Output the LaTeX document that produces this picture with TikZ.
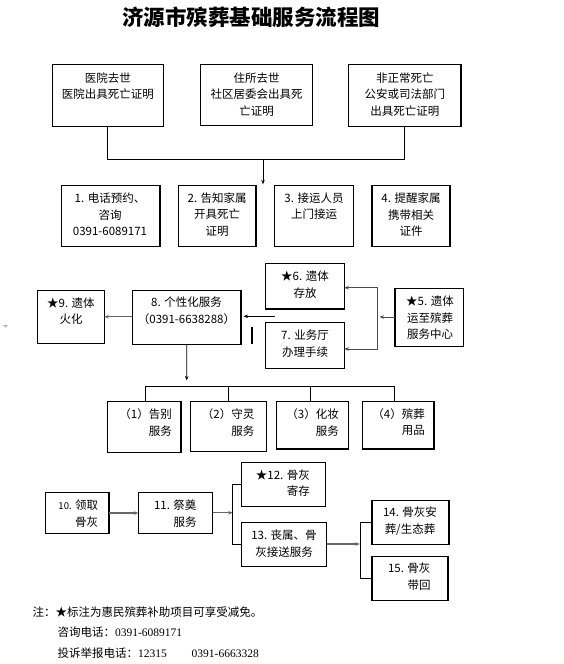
\documentclass[tikz,border=0pt]{standalone}
\usepackage{fontspec}
\setmainfont{Noto Sans CJK SC}
\newfontfamily\numfont{Liberation Serif}
\usetikzlibrary{arrows.meta,fit}
\newcommand\mkbox[5]{\path (#2,#3) coordinate (#1-nw) (#4,#5) coordinate (#1-se); \node[box, fit=(#1-nw)(#1-se)] (#1) {};}
\begin{document}
\begin{tikzpicture}[x=1pt,y=-1pt,
  box/.style={draw, line width=1.1pt, inner sep=0pt, outer sep=0pt},
  txt/.style={font=\fontsize{11.5}{16.5}\selectfont, align=center, inner sep=0pt},
  rtxt/.style={font=\fontsize{11.5}{16.5}\selectfont, align=right, inner sep=0pt, anchor=east},
  ntxt/.style={font=\fontsize{11.5}{14}\selectfont, inner sep=0pt, anchor=west},
  conn/.style={line width=0.8pt},
  arr/.style={line width=0.8pt, -{Stealth[length=4.5pt,width=3.5pt]}},
  garr/.style={line width=1.4pt, draw=black!60, -{Stealth[length=4.5pt,width=3.5pt]}}]
\useasboundingbox (0,0) rectangle (564,664);

% title
\node[font=\fontsize{21.5}{24}\selectfont\bfseries, inner sep=0pt] (title) at (251,17) {济源市殡葬基础服务流程图};

% boxes
\mkbox{A}{52.3}{64.3}{163.3}{126.3}
\mkbox{B}{200.7}{64.3}{312.7}{125.3}
\mkbox{C}{348.7}{64.3}{461}{126.3}
\mkbox{s1}{61.3}{185.3}{160}{246.3}
\mkbox{s2}{178.3}{185.3}{256}{246.3}
\mkbox{s3}{274.7}{185.3}{353.3}{246.3}
\mkbox{s4}{372}{185.3}{450}{246.3}
\mkbox{s6}{265.3}{263.3}{344.3}{309}
\mkbox{s7}{265.3}{322.7}{344.3}{368.3}
\mkbox{s5}{395}{288.3}{463.7}{346.7}
\mkbox{s8}{132.3}{290.7}{241}{344.3}
\mkbox{s9}{37.3}{290.7}{104.3}{343.3}
\mkbox{p1}{107.7}{401.3}{181}{452.3}
\mkbox{p2}{190.3}{401.3}{266.3}{451.3}
\mkbox{p3}{276.3}{401.3}{348.7}{449}
\mkbox{p4}{362.7}{401.3}{434}{449}
\mkbox{s10}{45.7}{492.3}{109}{533.7}
\mkbox{s11}{138.3}{492.3}{212.7}{533.7}
\mkbox{s12}{241.3}{462.3}{325.7}{506.7}
\mkbox{s13}{241.3}{522.3}{326.7}{566.3}
\mkbox{s14}{372}{500.3}{449}{544.7}
\mkbox{s15}{372}{556.7}{448}{600.3}

% texts
\node[txt] (tA) at (107.8,85.9) {医院去世\\医院出具死亡证明};
\node[txt] (tB) at (256.7,94.5) {住所去世\\社区居委会出具死\\亡证明};
\node[txt] (tC) at (404.8,94.5) {非正常死亡\\公安或司法部门\\出具死亡证明};
\node[txt] (t1) at (110,214.6) {1. 电话预约、\\咨询\\0391-6089171};
\node[txt] (t2) at (217.2,214.6) {2. 告知家属\\开具死亡\\证明};
\node[txt] (t3) at (314,206.2) {3. 接运人员\\上门接运};
\node[txt] (t4) at (411,214.6) {4. 提醒家属\\携带相关\\证件};
\node[txt] (t6) at (305,284.7) {★6. 遗体\\存放};
\node[txt] (t7) at (305,343.7) {7. 业务厅\\办理手续};
\node[txt] (t5) at (430,318) {★5. 遗体\\运至殡葬\\服务中心};
\node[txt] (t8) at (186.5,310.5) {8. 个性化服务\\（0391-6638288）};
\node[txt] (t9) at (71,311) {★9. 遗体\\火化};
\node[rtxt] (tp1) at (172,422.3) {（1）告别\\服务};
\node[rtxt] (tp2) at (254.5,422.3) {（2）守灵\\服务};
\node[rtxt] (tp3) at (339,422.3) {（3）化妆\\服务};
\node[rtxt] (tp4) at (425,422.3) {（4）殡葬\\用品};
\node[rtxt] (t10) at (98.3,513.7) {{\fontsize{9.5}{16.5}\selectfont 10.} 领取\\骨灰};
\node[rtxt] (t11) at (196.7,513.7) {11. 祭奠\\服务};
\node[rtxt] (t12) at (310,483.3) {★12. 骨灰\\寄存};
\node[txt] (t13) at (284,543.7) {13. 丧属、骨\\灰接送服务};
\node[txt] (t14) at (410,521.2) {14. 骨灰安\\葬/生态葬};
\node[rtxt] (t15) at (430.7,576.7) {15. 骨灰\\带回};

% connectors top
\coordinate (J1) at (263,159.3);
\coordinate (J1t) at (263,184.3);
\draw[conn] (A.south) |- (J1) -| (C.south);
\draw[arr] (J1) -- (J1t);

% row 3
\coordinate (V5) at (379.5,317);
\coordinate (Vt) at (377.7,287.7);
\coordinate (Vb) at (377.7,349);
\draw[arr, draw=black!70] (s5.west |- V5) -- (V5);
\draw[conn, draw=black!70] (Vt) -- (Vb);
\draw[arr, draw=black!70] (Vt) -- (Vt -| s6.east);
\draw[arr, draw=black!70] (Vb) -- (Vb -| s7.east);
\coordinate (M) at (275,316.3);
\coordinate (M8) at (243.5,316.3);
\draw[arr] (M) -- (M8);
\draw[garr] (s8.west |- 0,316.7) -- (s9.east |- 0,316.7);
\coordinate (D8) at (186.7,380.5);
\draw[arr] (s8.south) -- (D8);
\draw[line width=2pt] (252,326.7) -- (252,344.3);
\fill[black!30] (3,325) -- (8,325) -- (5.5,327.5) -- cycle;

% row 4 bracket
\coordinate (H1) at (145,386.7);
\coordinate (H2) at (228.3,386.7);
\coordinate (H3) at (310.7,386.7);
\coordinate (H4) at (394.3,386.7);
\draw[conn] (H1 |- p1.north) -- (H1) -- (H4) -- (H4 |- p4.north);
\draw[conn] (H2) -- (H2 |- p2.north);
\draw[conn] (H3) -- (H3 |- p3.north);

% row 5
\draw[garr] (s10.east) -- (s11.west);
\coordinate (B1) at (232.7,512.7);
\draw[garr] (s11.east |- B1) -- (B1);
\coordinate (B1t) at (232.7,484.3);
\coordinate (B1b) at (232.7,544.3);
\draw[conn] (s12.west |- B1t) -- (B1t) -- (B1b) -- (s13.west |- B1b);
\coordinate (B2) at (359.8,544);
\draw[garr] (s13.east |- B2) -- (B2);
\coordinate (B2t) at (360.7,522.3);
\coordinate (B2b) at (360.7,578.3);
\draw[conn] (s14.west |- B2t) -- (B2t) -- (B2b) -- (s15.west |- B2b);

% notes
\node[ntxt] (n1) at (32.3,611.7) {注：★标注为惠民殡葬补助项目可享受减免。};
\node[ntxt] (n2) at (57.3,632.3) {咨询电话：{\numfont 0391-6089171}};
\node[ntxt] (n3) at (57.3,653.3) {投诉举报电话：{\numfont 12315}\hspace{25pt}{\numfont 0391-6663328}};
\end{tikzpicture}
\end{document}
